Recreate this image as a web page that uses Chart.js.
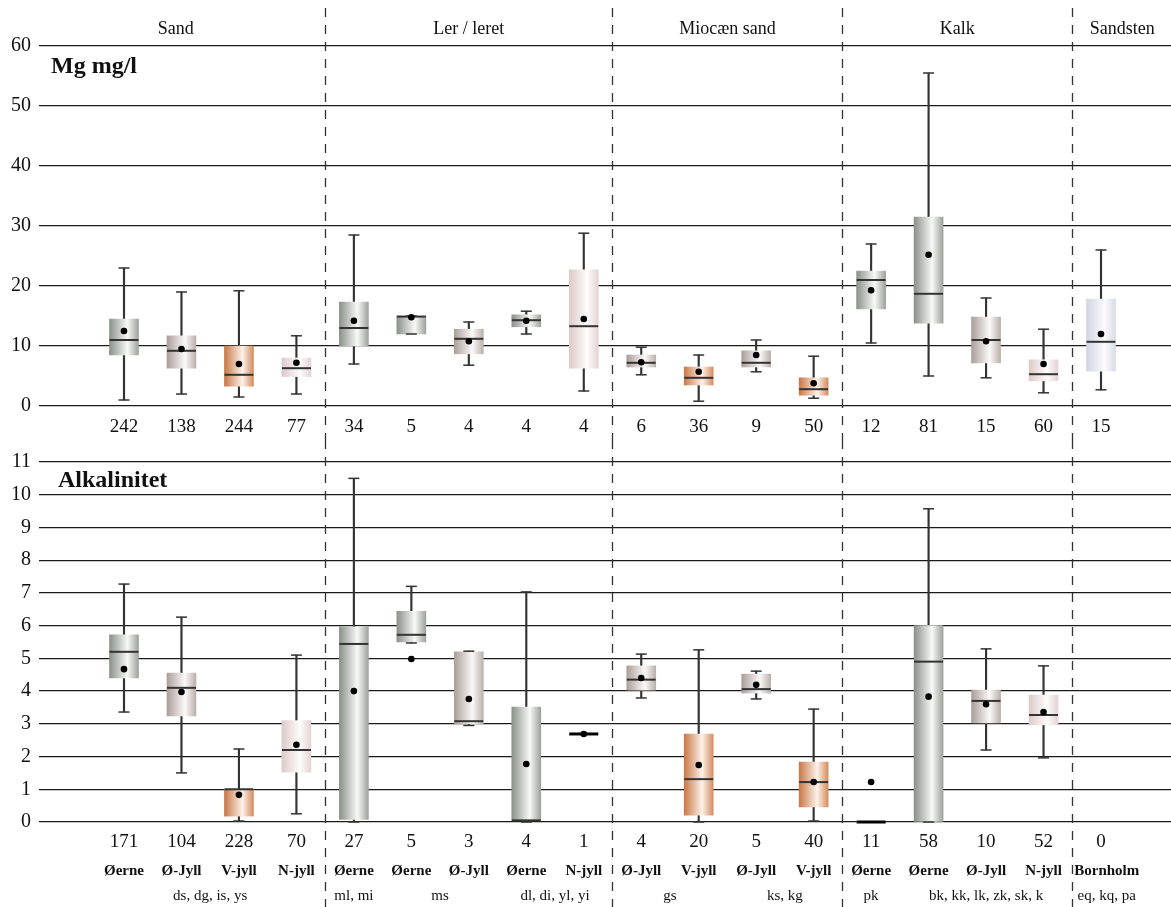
<!DOCTYPE html>
<html lang="da">
<head>
  <meta charset="UTF-8">
  <title>Mg og alkalinitet</title>
  <script src="https://cdn.jsdelivr.net/npm/chart.js"></script>
  <style>
    html, body { margin: 0; background: #fff; overflow: hidden; }
    .panel { position: relative; width: 1171px; }
    #mg-panel { height: 440px; }
    #alk-panel { height: 467px; }
  </style>
</head>
<body>
  <div class="panel" id="mg-panel"><canvas id="mg"></canvas></div>
  <div class="panel" id="alk-panel"><canvas id="alk"></canvas></div>

  <script>
    // ---- data ----
    const regions = ['Øerne', 'Ø-Jyll', 'V-jyll', 'N-jyll', 'Øerne', 'Øerne', 'Ø-Jyll', 'Øerne', 'N-jyll',
      'Ø-Jyll', 'V-jyll', 'Ø-Jyll', 'V-jyll', 'Øerne', 'Øerne', 'Ø-Jyll', 'N-jyll', 'Bornholm'];
    const groups = ['Sand', 'Ler / leret', 'Miocæn sand', 'Kalk', 'Sandsten'];
    const groupPos = [0.9, 6, 10.5, 14.5, 17.37];
    const separators = [3.5, 8.5, 12.5, 16.5];
    const codes = ['ds, dg, is, ys', 'ml, mi', 'ms', 'dl, di, yl, yi', 'gs', 'ks, kg', 'pk', 'bk, kk, lk, zk, sk, k', 'eq, kq, pa'];
    const codePos = [1.5, 4, 5.5, 7.5, 9.5, 11.5, 13, 15, 17.1];

    const mgMin  = [1, 2, 1.5, 2, 7, 12, 6.8, 12, 2.5, 5.2, 0.8, 5.7, 1.3, 10.5, 5, 4.7, 2.2, 2.7];
    const mgQ1   = [8.5, 6.3, 3.3, 4.9, 10, 12, 8.7, 13.2, 6.3, 6.5, 3.5, 6.5, 1.8, 16.2, 13.8, 7.2, 4.2, 5.8];
    const mgMed  = [11, 9.2, 5.2, 6.3, 13, 14.9, 11.2, 14.3, 13.3, 7.2, 4.7, 7.2, 2.8, 21, 18.7, 11, 5.3, 10.7];
    const mgQ3   = [14.5, 11.7, 10, 8, 17.3, 15, 12.8, 15.2, 22.7, 8.5, 6.5, 9.2, 4.7, 22.5, 31.5, 14.8, 7.7, 17.8];
    const mgMax  = [23, 19, 19.2, 11.7, 28.5, 15, 14, 15.8, 28.8, 9.8, 8.5, 11, 8.3, 27, 55.5, 18, 12.8, 26];
    const mgMean = [12.5, 9.5, 7, 7.2, 14.2, 14.8, 10.8, 14.2, 14.5, 7.3, 5.7, 8.5, 3.8, 19.3, 25.2, 10.8, 7, 12];
    const mgN    = [242, 138, 244, 77, 34, 5, 4, 4, 4, 6, 36, 9, 50, 12, 81, 15, 60, 15];

    const alkMin  = [3.36, 1.5, 0.03, 0.25, 0, 5.47, 2.95, 0, 2.69, 3.79, 0, 3.76, 0.03, 0, 0, 2.2, 1.96, null];
    const alkQ1   = [4.4, 3.24, 0.18, 1.52, 0.08, 5.5, 3.0, 0.05, 2.69, 4.03, 0.21, 3.94, 0.46, 0, 0, 3.03, 2.97, null];
    const alkMed  = [5.2, 4.1, 1.0, 2.2, 5.44, 5.72, 3.08, 0.05, 2.69, 4.35, 1.31, 4.06, 1.22, 0, 4.9, 3.7, 3.27, null];
    const alkQ3   = [5.72, 4.55, 1.0, 3.1, 5.96, 6.44, 5.2, 3.51, 2.69, 4.77, 2.69, 4.52, 1.83, 0, 6.0, 4.03, 3.88, null];
    const alkMax  = [7.27, 6.26, 2.23, 5.1, 10.5, 7.2, 5.22, 7.03, 2.69, 5.13, 5.26, 4.61, 3.45, 0, 9.57, 5.29, 4.77, null];
    const alkMean = [4.67, 3.97, 0.83, 2.36, 4.0, 4.98, 3.76, 1.77, 2.69, 4.4, 1.74, 4.19, 1.22, 1.22, 3.83, 3.6, 3.36, null];
    const alkN    = [171, 104, 228, 70, 27, 5, 3, 4, 1, 4, 20, 5, 40, 11, 58, 10, 52, 0];

    // box colours per region: left edge, highlight, right edge
    const palettes = {
      'Øerne':    ['#8b908a', '#f8f9f7', '#9ea19c'],
      'Ø-Jyll':   ['#aa9e9a', '#fbf9f8', '#bab0ac'],
      'V-jyll':   ['#c97848', '#fdf2ea', '#d48d5f'],
      'N-jyll':   ['#ddcaca', '#fefcfc', '#e4d3d3'],
      'Bornholm': ['#d2d4e1', '#fbfbfd', '#d9dbe6']
    };

    const SERIF = '"Liberation Serif", "Times New Roman", serif';
    const BOX_W = 29;

    function boxFill(c) {
      const chart = c.chart;
      const xs = chart.scales.x;
      if (!xs || !c.raw) return '#ccc';
      const pal = palettes[regions[c.raw.x]];
      const cx = xs.getPixelForValue(c.raw.x);
      if (!isFinite(cx)) return pal[1];
      const g = chart.ctx.createLinearGradient(cx - BOX_W / 2, 0, cx + BOX_W / 2, 0);
      g.addColorStop(0, pal[0]);
      g.addColorStop(0.62, pal[1]);
      g.addColorStop(1, pal[2]);
      return g;
    }

    function pts(arr) {
      return arr.map((v, i) => v == null ? null : { x: i, y: v }).filter(p => p);
    }
    function ranges(lo, hi) {
      return lo.map((v, i) => v == null ? null : { x: i, y: [v, hi[i]] }).filter(p => p);
    }

    function buildDatasets(mn, q1, med, q3, mx, mean) {
      const flat = c => c.raw && q1[c.raw.x] === q3[c.raw.x];
      return [
        { type: 'scatter', data: pts(mean), pointStyle: 'circle', pointRadius: 3.3, pointHoverRadius: 3.3,
          pointBackgroundColor: '#000', pointBorderWidth: 0, clip: false },
        { type: 'scatter', data: pts(med), pointStyle: 'line', pointRadius: BOX_W / 2, pointHoverRadius: BOX_W / 2,
          pointBorderColor: c => flat(c) ? '#000' : '#333',
          pointBorderWidth: c => flat(c) ? 3 : 2, clip: false },
        { type: 'scatter', data: pts(mn).concat(pts(mx)), pointStyle: 'line', pointRadius: 5.5, pointHoverRadius: 5.5,
          pointBorderColor: '#333', pointBorderWidth: 1.5, clip: false },
        { type: 'bar', data: ranges(q1, q3), backgroundColor: boxFill, borderWidth: 0,
          barThickness: BOX_W, grouped: false },
        { type: 'bar', data: ranges(mn, mx), backgroundColor: '#333', borderWidth: 0,
          barThickness: 1.5, grouped: false }
      ];
    }

    // separators, titles, counts and labels placed with the x scale
    const decor = {
      id: 'decor',
      afterDraw(chart, args, o) {
        const { ctx } = chart;
        const xs = chart.scales.x;
        ctx.save();
        ctx.strokeStyle = '#333';
        ctx.lineWidth = 1.3;
        ctx.setLineDash([9, 8]);
        separators.forEach(s => {
          const px = Math.round(xs.getPixelForValue(s)) + 0.5;
          ctx.beginPath();
          ctx.moveTo(px, o.dashTop);
          ctx.lineTo(px, chart.height);
          ctx.stroke();
        });
        ctx.setLineDash([]);
        ctx.fillStyle = '#111';

        ctx.textAlign = 'left';
        ctx.font = 'bold 24px ' + SERIF;
        ctx.fillText(o.title, o.titleX, o.titleY);

        ctx.textAlign = 'center';
        ctx.font = '19px ' + SERIF;
        o.counts.forEach((n, i) => ctx.fillText(String(n), xs.getPixelForValue(i), o.countY));

        if (o.headers) {
          ctx.font = '18px ' + SERIF;
          groups.forEach((g, i) => ctx.fillText(g, xs.getPixelForValue(groupPos[i]), o.headerY));
        }
        if (o.labels) {
          ctx.font = 'bold 15px ' + SERIF;
          regions.forEach((r, i) => ctx.fillText(r, xs.getPixelForValue(i === 17 ? 17.1 : i), o.regionY));
          ctx.font = '15px ' + SERIF;
          codes.forEach((c, i) => ctx.fillText(c, xs.getPixelForValue(codePos[i]), o.codeY));
        }
        ctx.restore();
      }
    };

    function makeChart(id, datasets, yMax, step, pad, decorOpts) {
      return new Chart(document.getElementById(id), {
        type: 'bar',
        data: { datasets: datasets },
        plugins: [decor],
        options: {
          responsive: true,
          maintainAspectRatio: false,
          animation: false,
          events: [],
          layout: { padding: pad, autoPadding: false },
          plugins: { legend: { display: false }, tooltip: { enabled: false }, decor: decorOpts },
          scales: {
            x: { type: 'linear', min: -1.479, max: 18.218, offset: false, display: false },
            y: {
              min: 0, max: yMax,
              afterFit: s => { s.width = 39; },
              border: { display: false },
              grid: { color: '#1a1a1a', lineWidth: 1.2, drawTicks: false },
              ticks: { stepSize: step, padding: 8, color: '#111', font: { family: SERIF, size: 20 } }
            }
          }
        }
      });
    }

    makeChart('mg', buildDatasets(mgMin, mgQ1, mgMed, mgQ3, mgMax, mgMean), 60, 10,
      { top: 46, bottom: 34, left: 0, right: 0 },
      { title: 'Mg mg/l', titleX: 51, titleY: 73, counts: mgN, countY: 432, headers: true, headerY: 34, dashTop: 8 });

    makeChart('alk', buildDatasets(alkMin, alkQ1, alkMed, alkQ3, alkMax, alkMean), 11, 1,
      { top: 22, bottom: 85, left: 0, right: 0 },
      { title: 'Alkalinitet', titleX: 58, titleY: 47, counts: alkN, countY: 407, labels: true, regionY: 435, codeY: 460, dashTop: 0 });
  </script>
</body>
</html>
